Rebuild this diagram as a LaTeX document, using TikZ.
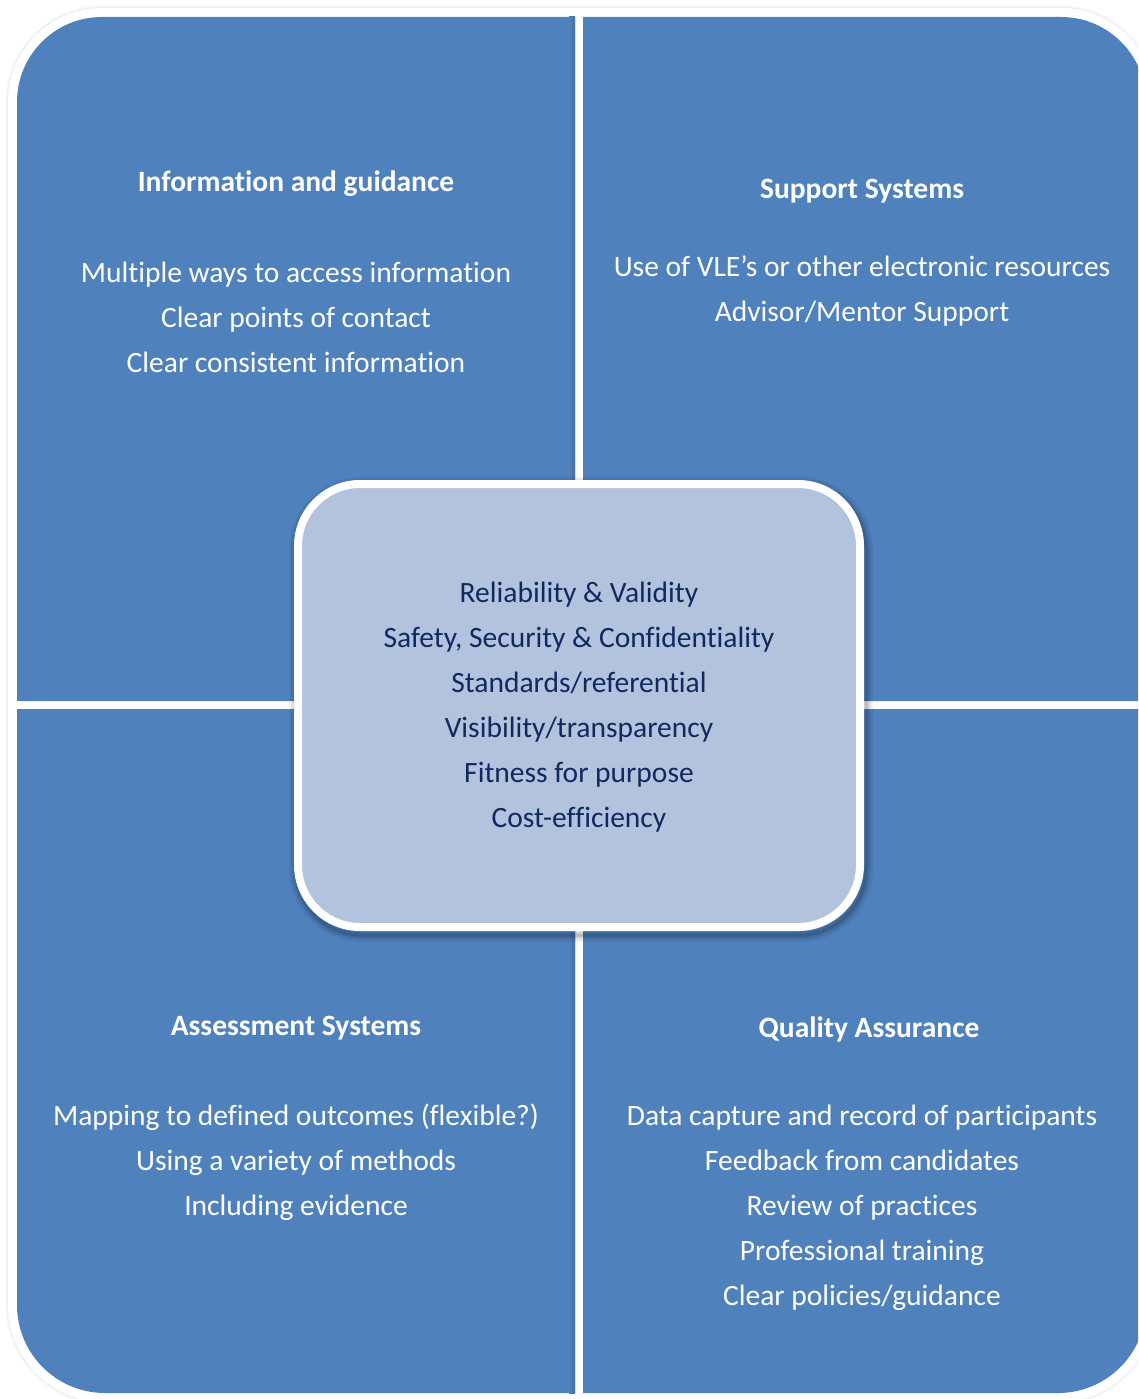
\documentclass[tikz,border=0pt]{standalone}
\usepackage{fontspec}
\setmainfont{Carlito}[Ligatures=CommonOff]
\usetikzlibrary{calc}
\definecolor{quadblue}{RGB}{79,129,189}
\definecolor{centerfill}{RGB}{179,194,221}
\definecolor{navytext}{RGB}{16,42,96}
\tikzset{
  quad/.style={fill=quadblue},
  headtext/.style={text=white,font=\fontsize{29.5}{45}\selectfont\bfseries,align=center,inner sep=0pt},
  bodytext/.style={text=white,font=\fontsize{29.5}{45}\selectfont,align=center,inner sep=0pt},
  centertext/.style={text=navytext,font=\fontsize{29.5}{45}\selectfont,align=center,inner sep=0pt},
}
\begin{document}
\begin{tikzpicture}[x=1pt,y=-1pt]
\useasboundingbox (0,0) rectangle (1138,1399);
\clip (0,0) rectangle (1138,1399);
\fill[white] (0,0) rectangle (1138,1399);
% outer soft shadow
\foreach \w/\o in {6/0.015,4/0.02,2/0.03}{
  \draw[black,opacity=\o,line width=\w pt] (8,102) arc[start angle=180,end angle=90,radius=94pt] -- (1061,8) arc[start angle=90,end angle=0,radius=94pt] -- (1155,1305) arc[start angle=0,end angle=-90,radius=97pt] -- (105,1402) arc[start angle=270,end angle=180,radius=97pt] -- cycle;
}
\fill[white] (8,102) arc[start angle=180,end angle=90,radius=94pt] -- (1061,8) arc[start angle=90,end angle=0,radius=94pt] -- (1155,1305) arc[start angle=0,end angle=-90,radius=97pt] -- (105,1402) arc[start angle=270,end angle=180,radius=97pt] -- cycle;
% quadrants
\fill[quad] (17,701) -- (17,102) arc[start angle=180,end angle=90,radius=85pt] -- (575,17) -- (575,701) -- cycle;
\fill[quad] (583,701) -- (583,17) -- (1061,17) arc[start angle=90,end angle=0,radius=85pt] -- (1146,701) -- cycle;
\fill[quad] (17,709) -- (575,709) -- (575,1393) -- (105,1393) arc[start angle=270,end angle=180,radius=88pt] -- cycle;
\fill[quad] (583,709) -- (1146,709) -- (1146,1305) arc[start angle=0,end angle=-90,radius=88pt] -- (583,1393) -- cycle;
% inner shadow bands near gap
\shade[left color=quadblue,right color=quadblue!85!black] (569,17) rectangle (575,701);
\shade[left color=quadblue,right color=quadblue!85!black] (569,709) rectangle (575,1393);
% centre box shadow
\foreach \w/\o in {14/0.05,10/0.06,6/0.08,3/0.1}{
  \draw[black,opacity=\o,line width=\w pt,rounded corners=66pt] (296,484) rectangle (866,935);
}
\draw[white,line width=8pt,fill=centerfill,rounded corners=62pt] (298,484) rectangle (860,927);
% texts
\node[headtext] (h1) at (296,184) {Information and guidance};
\node[bodytext] (b1) at (296,317) {Multiple ways to access information\\Clear points of contact\\Clear consistent information};
\node[headtext] (h2) at (862,191) {Support Systems};
\node[bodytext] (b2) at (862,290.5) {Use of VLE’s or other electronic resources\\Advisor/Mentor Support};
\node[centertext] (c) at (579,707.5) {Reliability \& Validity\\Safety, Security \& Confidentiality\\Standards/referential\\Visibility/transparency\\Fitness for purpose\\Cost-efficiency};
\node[headtext] (h3) at (296,1028) {Assessment Systems};
\node[bodytext] (b3) at (296,1162) {Mapping to defined outcomes (flexible?)\\Using a variety of methods\\Including evidence};
\node[headtext] (h4) at (869,1029) {Quality Assurance};
\node[bodytext] (b4) at (862,1207.5) {Data capture and record of participants\\Feedback from candidates\\Review of practices\\Professional training\\Clear policies/guidance};
\end{tikzpicture}
\end{document}
